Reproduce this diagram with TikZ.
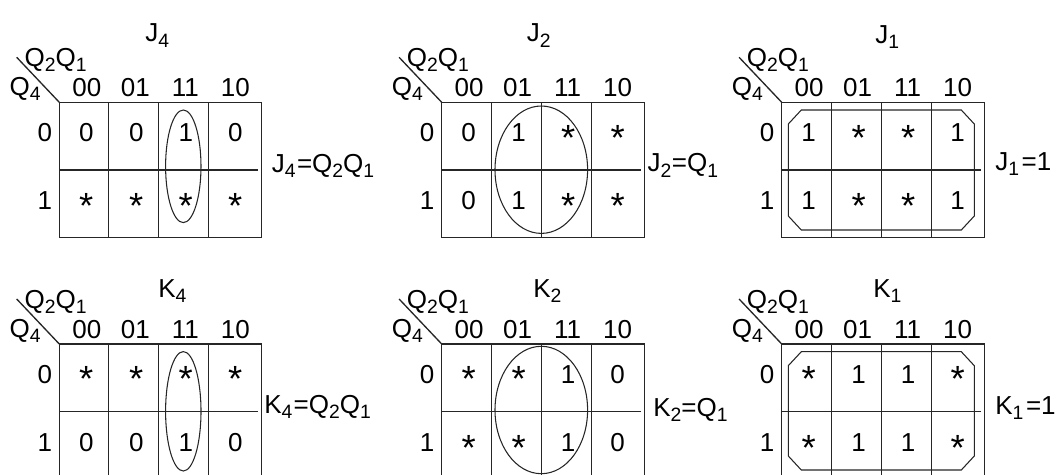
\documentclass[tikz,border=0pt]{standalone}
\usepackage{fontspec}
\setmainfont{Liberation Sans}
\usepackage{graphicx}
\usepackage{tikz}

\tikzset{
  kline/.style={line width=1pt, draw=black!85},
  kloop/.style={line width=0.8pt, draw=black!85},
  ktext/.style={inner sep=0pt, font=\fontsize{19.5}{21}\selectfont},
}

% subscript and don't-care mark
\newcommand{\sbs}[1]{\raisebox{-4.2pt}[0pt][0pt]{\fontsize{14.5}{15}\selectfont #1}}
\newcommand{\dc}{\raisebox{-6.6pt}{\scalebox{1.4}{*}}}

% one map grid: #1,#2 top left corner, #3 name, #4 lift of Q2Q1
\newcommand{\kgrid}[4]{%
  \draw[kline] (#1,#2) rectangle ({#1+202.5},{#2+135.2});
  \draw[kline] (#1,{#2+67.6}) -- ({#1+199},{#2+67.6});
  \draw[kline] ({#1+49.5},#2) -- ({#1+49.5},{#2+135.2});
  \draw[kline] ({#1+99.5},#2) -- ({#1+99.5},{#2+135.2});
  \draw[kline] ({#1+149.5},#2) -- ({#1+149.5},{#2+135.2});
  \draw[kline] ({#1-42.6},{#2-45}) -- (#1,#2);
  \node[ktext, anchor=base west] (#3-q21) at ({#1-35},{#2-#4}) {Q\sbs{2}Q\sbs{1}};
  \node[ktext, anchor=base west] (#3-q4) at ({#1-50},{#2-7}) {Q\sbs{4}};
  \node[ktext, anchor=base] (#3-c00) at ({#1+27.5},{#2-6}) {00};
  \node[ktext, anchor=base] (#3-c01) at ({#1+76},{#2-6}) {01};
  \node[ktext, anchor=base] (#3-c11) at ({#1+126},{#2-6}) {11};
  \node[ktext, anchor=base] (#3-c10) at ({#1+176},{#2-6}) {10};
  \node[ktext, anchor=base] (#3-r0) at ({#1-14.5},{#2+39}) {0};
  \node[ktext, anchor=base] (#3-r1) at ({#1-14.5},{#2+107.6}) {1};
}

% one row of cells: #1 left edge, #2 baseline, #3 name, #4-#7 entries
\newcommand{\krow}[7]{%
  \node[ktext, anchor=base] (#3-a) at ({#1+27},#2) {#4};
  \node[ktext, anchor=base] (#3-b) at ({#1+77},#2) {#5};
  \node[ktext, anchor=base] (#3-c) at ({#1+126.5},#2) {#6};
  \node[ktext, anchor=base] (#3-d) at ({#1+176},#2) {#7};
}

\begin{document}
\begin{tikzpicture}[x=0.75pt, y=-0.75pt]
  \clip (0,0) rectangle (1058,475);

  % J4
  \node[ktext, anchor=base west] (tJ4) at (145,41.7) {J\sbs{4}};
  \kgrid{59.3}{102.3}{J4}{36}
  \krow{59.3}{141.3}{J4r0}{0}{0}{1}{0}
  \krow{59.3}{209.9}{J4r1}{\dc}{\dc}{\dc}{\dc}
  \draw[kloop] (183.3,166.3) ellipse [x radius=17.7, y radius=56.3];
  \node[ktext, anchor=base west] (eJ4) at (271.7,172) {J\sbs{4}\hspace{1pt}=Q\sbs{2}Q\sbs{1}};

  % J2
  \node[ktext, anchor=base west] (tJ2) at (526.7,41.7) {J\sbs{2}};
  \kgrid{441.7}{102.3}{J2}{36}
  \krow{441.7}{141.3}{J2r0}{0}{1}{\dc}{\dc}
  \krow{441.7}{209.9}{J2r1}{0}{1}{\dc}{\dc}
  \draw[kloop] (541.3,169.7) ellipse [x radius=46.3, y radius=63.7];
  \node[ktext, anchor=base west] (eJ2) at (647.3,171.7) {J\sbs{2}\hspace{0.5pt}=Q\sbs{1}};

  % J1
  \node[ktext, anchor=base west] (tJ1) at (875,43) {J\sbs{1}};
  \kgrid{781.7}{102.3}{J1}{36}
  \krow{781.7}{141.3}{J1r0}{1}{\dc}{\dc}{1}
  \krow{781.7}{209.9}{J1r1}{1}{\dc}{\dc}{1}
  \draw[kloop] (801.3,110) -- (961.3,110) -- (974.3,124) -- (974.3,216)
    -- (961.3,230) -- (801.3,230) -- (788.3,216) -- (788.3,124) -- cycle;
  \node[ktext, anchor=base west] (eJ1) at (995,170) {J\sbs{1}\hspace{2pt}=1};

  % K4
  \node[ktext, anchor=base west] (tK4) at (158,297) {K\sbs{4}};
  \kgrid{59.3}{344}{K4}{36}
  \krow{59.3}{383}{K4r0}{\dc}{\dc}{\dc}{\dc}
  \krow{59.3}{451.6}{K4r1}{0}{0}{1}{0}
  \draw[kloop] (183.3,411.3) ellipse [x radius=17.7, y radius=59.7];
  \node[ktext, anchor=base west] (eK4) at (264,413.3) {K\sbs{4}\hspace{1pt}=Q\sbs{2}Q\sbs{1}};

  % K2
  \node[ktext, anchor=base west] (tK2) at (533,297.3) {K\sbs{2}};
  \kgrid{441.7}{344}{K2}{36}
  \krow{441.7}{383}{K2r0}{\dc}{\dc}{1}{0}
  \krow{441.7}{451.6}{K2r1}{\dc}{\dc}{1}{0}
  \draw[kloop] (541.3,410) ellipse [x radius=46.3, y radius=63.7];
  \node[ktext, anchor=base west] (eK2) at (653,416) {K\sbs{2}=Q\sbs{1}};

  % K1
  \node[ktext, anchor=base west] (tK1) at (873,297) {K\sbs{1}};
  \kgrid{781.7}{344}{K1}{36}
  \krow{781.7}{383}{K1r0}{\dc}{1}{1}{\dc}
  \krow{781.7}{451.6}{K1r1}{\dc}{1}{1}{\dc}
  \draw[kloop] (801.3,351.7) -- (961.3,351.7) -- (974.3,365.7) -- (974.3,456)
    -- (961.3,470) -- (801.3,470) -- (788.3,456) -- (788.3,365.7) -- cycle;
  \node[ktext, anchor=base west] (eK1) at (995,414.3) {K\sbs{1}\hspace{2pt}=1};
\end{tikzpicture}
\end{document}
